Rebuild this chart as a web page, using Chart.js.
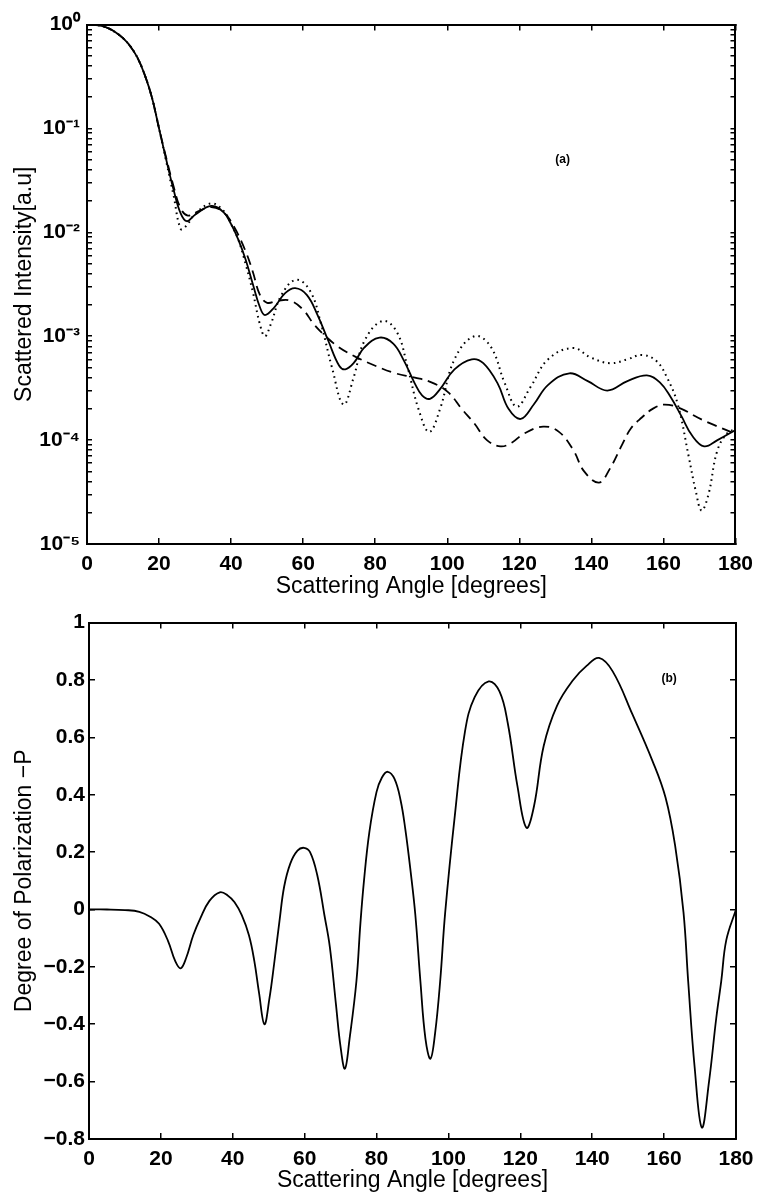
<!DOCTYPE html>
<html>
<head>
<meta charset="utf-8">
<script src="https://cdn.jsdelivr.net/npm/chart.js@4.4.1/dist/chart.umd.min.js"></script>
<style>
  html, body { margin: 0; padding: 0; background: #fff; }
  #wrap { position: relative; width: 767px; height: 1198px; }
  canvas { position: absolute; left: 0; }
  #intensityPlot { top: 0; }
  #polarPlot { top: 600px; }
</style>
</head>
<body>
<div id="wrap">
  <canvas id="intensityPlot" width="767" height="600"></canvas>
  <canvas id="polarPlot" width="767" height="598"></canvas>
</div>
<script>
// ---- (a) scattered intensity, three curves ----
const solidAngle = [0, 2, 4, 6, 8, 10, 12, 14, 16, 18, 20, 22, 24, 26, 27.7, 30, 34.5, 38, 40, 42, 44, 46, 48, 49.4, 52, 55, 57.8, 61, 64, 67, 70, 71.7, 74, 77, 81.2, 85, 88, 91, 93, 95.2, 98, 102, 106.8, 110, 114, 117, 120.4, 124, 128, 133.9, 139, 144.4, 150, 155.4, 159, 162, 165, 168, 171.3, 175, 180];
const solidIntensity = [1, 0.995, 0.97, 0.92, 0.84, 0.74, 0.62, 0.48, 0.33, 0.2, 0.1, 0.05, 0.026, 0.0152, 0.0128, 0.0148, 0.018, 0.0155, 0.012, 0.0085, 0.0055, 0.0032, 0.0019, 0.0016, 0.0019, 0.0026, 0.0029, 0.0025, 0.0016, 0.0009, 0.00052, 0.00048, 0.00055, 0.00078, 0.00097, 0.00085, 0.00058, 0.00035, 0.00027, 0.00025, 0.00031, 0.00048, 0.0006, 0.00055, 0.00035, 0.0002, 0.00016, 0.00022, 0.00034, 0.00044, 0.00037, 0.0003, 0.00037, 0.00042, 0.00036, 0.00026, 0.00017, 0.00011, 0.000087, 0.0001, 0.000125];

const dottedAngle = [0, 2, 4, 6, 8, 10, 12, 14, 16, 18, 20, 22, 24, 26, 27.5, 30, 34.5, 38, 40, 42, 44, 46, 48, 49.4, 51, 54, 58.1, 62, 65, 68, 71.2, 74, 77, 82, 86, 89, 92, 95, 98, 102, 107.5, 112, 116, 119.3, 123, 128, 134.8, 140, 145.3, 150, 154, 158, 161, 164, 167, 169, 170.6, 172.5, 175, 178, 180];
const dottedIntensity = [1, 0.995, 0.97, 0.92, 0.84, 0.74, 0.62, 0.48, 0.33, 0.2, 0.1, 0.048, 0.023, 0.0108, 0.0115, 0.015, 0.019, 0.016, 0.012, 0.0085, 0.005, 0.0027, 0.0013, 0.001, 0.0013, 0.0025, 0.0035, 0.0027, 0.0013, 0.0005, 0.00022, 0.0004, 0.0009, 0.0014, 0.0011, 0.0005, 0.0002, 0.00012, 0.0002, 0.0006, 0.001, 0.0008, 0.00035, 0.00021, 0.00032, 0.0006, 0.00077, 0.00062, 0.00055, 0.0006, 0.00066, 0.00058, 0.0004, 0.00022, 0.00007, 0.000032, 0.000021, 0.00003, 0.00008, 0.00012, 0.000125];

const dashedAngle = [0, 2, 4, 6, 8, 10, 12, 14, 16, 18, 20, 22, 24, 26, 28, 31, 34.5, 38, 41, 44, 46, 48, 50, 53, 56.4, 60, 63, 66.5, 70, 74.7, 80, 85.6, 91, 95.6, 100.2, 104, 107.5, 111, 114.8, 118, 121.2, 126.6, 131, 135, 138, 142.1, 145, 148.5, 151, 154, 157, 160.4, 165, 169.5, 174, 180];
const dashedIntensity = [1, 0.995, 0.97, 0.92, 0.84, 0.74, 0.62, 0.48, 0.33, 0.2, 0.1, 0.052, 0.028, 0.017, 0.0145, 0.016, 0.0175, 0.0155, 0.011, 0.0066, 0.0042, 0.0025, 0.0021, 0.0022, 0.0022, 0.0018, 0.0013, 0.00098, 0.00078, 0.00063, 0.00052, 0.00044, 0.0004, 0.00036, 0.00029, 0.0002, 0.000145, 0.0001, 0.000087, 0.000095, 0.000115, 0.000135, 0.00012, 0.00008, 0.00005, 0.000039, 0.000052, 0.00009, 0.00013, 0.000165, 0.0002, 0.00022, 0.0002, 0.000165, 0.00014, 0.000115];

// ---- (b) degree of polarization ----
const polAngle = [0, 5, 10, 14, 17, 19.5, 22, 24, 25.5, 27, 29, 31, 33.5, 36.4, 38.5, 40.5, 42.5, 44.5, 46, 47.3, 48.8, 50.2, 51.5, 53, 54.3, 56, 58, 59.8, 61.5, 63.5, 65.5, 67, 68.7, 70, 71.2, 72.5, 74.4, 75.5, 76.5, 78, 80, 81.5, 83.1, 85, 86.7, 88, 89.5, 90.8, 92.2, 93.6, 95, 96.3, 97.7, 99.1, 101.8, 104.6, 107.3, 111.2, 114.2, 116.5, 119.2, 121.7, 123.8, 126.5, 130.2, 134.7, 138.5, 141.9, 145.7, 151.2, 156.7, 160.4, 163.1, 165.4, 166.7, 168.5, 170.5, 172.5, 174.5, 175.9, 177.3, 180];
const polValue = [0, 0, -0.002, -0.008, -0.025, -0.05, -0.11, -0.18, -0.205, -0.17, -0.09, -0.03, 0.03, 0.06, 0.05, 0.025, -0.02, -0.09, -0.18, -0.29, -0.4, -0.31, -0.19, -0.04, 0.08, 0.16, 0.205, 0.215, 0.2, 0.12, -0.02, -0.13, -0.33, -0.48, -0.555, -0.45, -0.25, -0.05, 0.1, 0.27, 0.41, 0.46, 0.48, 0.455, 0.38, 0.28, 0.13, -0.02, -0.25, -0.45, -0.52, -0.43, -0.25, -0.01, 0.33, 0.62, 0.74, 0.795, 0.76, 0.65, 0.43, 0.285, 0.36, 0.57, 0.71, 0.8, 0.85, 0.877, 0.83, 0.68, 0.52, 0.39, 0.22, -0.01, -0.25, -0.55, -0.76, -0.6, -0.38, -0.25, -0.107, 0];

// tick labels
const angleTickLabels = ['0', '20', '40', '60', '80', '100', '120', '140', '160', '180'];
const intensityTickLabels = ['10\u2070', '10\u207B\u00B9', '10\u207B\u00B2', '10\u207B\u00B3', '10\u207B\u2074', '10\u207B\u2075'];
const polTickLabels = ['\u22120.8', '\u22120.6', '\u22120.4', '\u22120.2', '0', '0.2', '0.4', '0.6', '0.8', '1'];

const FONT = "'Liberation Sans', Arial, Helvetica, sans-serif";
Chart.defaults.font.family = FONT;
Chart.defaults.color = '#000';

const pts = (xs, ys) => xs.map((x, i) => ({x: x, y: ys[i]}));

// small "(a)" / "(b)" tag inside the plot
const panelTag = {
    id: 'panelTag',
    afterDatasetsDraw(chart, args, opts) {
        const ctx = chart.ctx;
        ctx.save();
        ctx.font = 'bold 12px ' + FONT;
        ctx.fillStyle = '#000';
        ctx.textAlign = 'center';
        ctx.textBaseline = 'middle';
        ctx.fillText(opts.text, chart.scales.x.getPixelForValue(opts.x), chart.scales.y.getPixelForValue(opts.y));
        ctx.restore();
    }
};

const tickGrid = (len) => ({drawOnChartArea: false, tickLength: len, color: '#000', lineWidth: 1.5});
const frame = {color: '#000', width: 2};
const tickFont = {size: 21, weight: 'bold'};
const titleFont = {size: 23, lineHeight: 1};

// drop the 1.5x10^n ticks the log scale adds, keep 1..9 x 10^n
function wholeLogTicks(scale) {
    scale.ticks = scale.ticks.filter(t => {
        const m = t.value / Math.pow(10, Math.floor(Math.log10(t.value) + 1e-9));
        return Math.abs(m - Math.round(m)) < 1e-6;
    });
}

function xAxes(labelPad, titlePad, height) {
    return {
        x: {
            type: 'linear', position: 'bottom', min: 0, max: 180,
            ticks: {stepSize: 20, padding: labelPad, font: tickFont, autoSkip: false, maxRotation: 0,
                callback: (v, i) => angleTickLabels[i]},
            grid: tickGrid(-6),
            border: frame,
            title: {display: true, text: 'Scattering Angle [degrees]', font: titleFont, padding: {top: 0, bottom: titlePad}},
            afterFit: s => { s.height = height; }
        },
        x2: {
            type: 'linear', position: 'top', min: 0, max: 180,
            ticks: {stepSize: 20, display: false},
            grid: tickGrid(-6),
            border: frame,
            afterFit: s => { s.height = 0; }
        }
    };
}

const intensityChart = new Chart(document.getElementById('intensityPlot'), {
    type: 'line',
    data: {
        datasets: [{
            label: 'solid',
            data: pts(solidAngle, solidIntensity),
            borderColor: '#000', borderWidth: 1.8
        }, {
            label: 'dotted',
            data: pts(dottedAngle, dottedIntensity),
            borderColor: '#000', borderWidth: 2, borderDash: [1.6, 4]
        }, {
            label: 'dashed',
            data: pts(dashedAngle, dashedIntensity),
            borderColor: '#000', borderWidth: 1.8, borderDash: [10, 6]
        }]
    },
    options: {
        responsive: false,
        animation: false,
        devicePixelRatio: 1,
        layout: {padding: {left: 0, right: 22, top: 24, bottom: 0}},
        elements: {point: {radius: 0}, line: {tension: 0.4, fill: false}},
        scales: Object.assign(xAxes(14, 2, 56), {
            y: {
                type: 'logarithmic', position: 'left', min: 1e-5, max: 1,
                afterBuildTicks: wholeLogTicks,
                ticks: {autoSkip: false, padding: 12, font: tickFont,
                    callback: function (v) {
                        const e = Math.round(Math.log10(v));
                        return Math.abs(v / Math.pow(10, e) - 1) < 1e-6 ? intensityTickLabels[-e] : '';
                    }},
                grid: tickGrid(-5),
                border: frame,
                title: {display: true, text: 'Scattered Intensity[a.u]', font: titleFont, padding: {top: 13.5, bottom: 0}},
                afterFit: s => { s.width = 87; }
            },
            y2: {
                type: 'logarithmic', position: 'right', min: 1e-5, max: 1,
                afterBuildTicks: wholeLogTicks,
                ticks: {display: false, autoSkip: false},
                grid: tickGrid(-5),
                border: frame,
                afterFit: s => { s.width = 0; }
            }
        }),
        plugins: {
            legend: {display: false},
            tooltip: {enabled: false},
            panelTag: {text: '(a)', x: 132, y: 0.05}
        }
    },
    plugins: [panelTag]
});

const polarChart = new Chart(document.getElementById('polarPlot'), {
    type: 'line',
    data: {
        datasets: [{
            label: '-P',
            data: pts(polAngle, polValue),
            borderColor: '#000', borderWidth: 1.8
        }]
    },
    options: {
        responsive: false,
        animation: false,
        devicePixelRatio: 1,
        layout: {padding: {left: 0, right: 22, top: 22, bottom: 0}},
        elements: {point: {radius: 0}, line: {tension: 0.4, fill: false}},
        scales: Object.assign(xAxes(13.5, 5.5, 59), {
            y: {
                type: 'linear', position: 'left', min: -0.8, max: 1,
                ticks: {stepSize: 0.2, autoSkip: false, padding: 10, font: tickFont,
                    callback: (v, i) => polTickLabels[i]},
                grid: tickGrid(-6),
                border: frame,
                title: {display: true, text: 'Degree of Polarization \u2212P', font: titleFont, padding: {top: 13.5, bottom: 0}},
                afterFit: s => { s.width = 89; }
            },
            y2: {
                type: 'linear', position: 'right', min: -0.8, max: 1,
                ticks: {stepSize: 0.2, display: false},
                grid: tickGrid(-6),
                border: frame,
                afterFit: s => { s.width = 0; }
            }
        }),
        plugins: {
            legend: {display: false},
            tooltip: {enabled: false},
            panelTag: {text: '(b)', x: 161.4, y: 0.805}
        }
    },
    plugins: [panelTag]
});
</script>
</body>
</html>
